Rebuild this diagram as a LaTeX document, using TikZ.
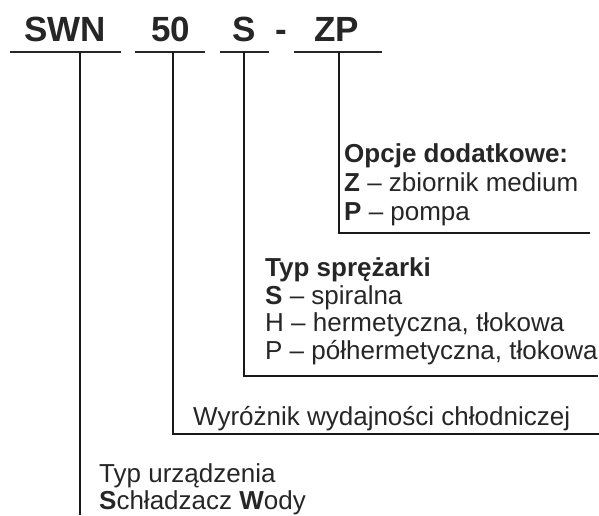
\documentclass[tikz,border=0pt]{standalone}
\usepackage{fontspec}
\setmainfont{Liberation Sans}
\usetikzlibrary{calc, positioning}

\tikzset{
  code/.style={inner sep=0pt, anchor=base west, text=black!85, font=\fontsize{35}{37}\selectfont\bfseries},
  txt/.style={inner sep=0pt, anchor=base west, text=black!85, font=\fontsize{26}{28}\selectfont},
  underline/.style={black!85, line width=2.4pt},
  lead/.style={black!90, line width=1.4pt}
}

\begin{document}
\begin{tikzpicture}[x=1pt, y=-1pt]
          \useasboundingbox (0,0) rectangle (599,515);
          % Type code
          \node[code] (swn) at (24,41) {SWN};
          \node[code] (fifty) at (151,41) {50};
          \node[code] (sp) at (232,41) {S};
          \node[code] (dash) at (275,41) {-};
          \node[code] (zp) at (314,41) {ZP};
          % Underlines
          \draw[underline] (10,52) -- (121,52);
          \draw[underline] (135,52) -- (205,52);
          \draw[underline] (220,52) -- (269,52);
          \draw[underline] (294,52) -- (382,52);
          % Lead line ends
          \coordinate (swnU) at (80,52);
          \coordinate (fiftyU) at (173,52);
          \coordinate (spU) at (244,52);
          \coordinate (zpU) at (339,52);
          \coordinate (swnE) at (80,515);
          \coordinate (fiftyE) at (599,434);
          \coordinate (spE) at (598,376);
          \coordinate (zpE) at (590,233);
          % Lead lines
          \draw[lead] (zpU) |- (zpE);
          \draw[lead] (spU) |- (spE);
          \draw[lead] (fiftyU) |- (fiftyE);
          \draw[lead] (swnU) -- (swnE);
          % Additional options
          \node[txt] (opt) at (344,162) {\bfseries Opcje dodatkowe:};
          \node[txt] (optZ) at (344,191) {\textbf{Z} -- zbiornik medium};
          \node[txt] (optP) at (344,220) {\textbf{P} -- pompa};
          % Compressor type
          \node[txt] (comp) at (265,276) {\bfseries Typ sprężarki};
          \node[txt] (compS) at (265,304) {\textbf{S} -- spiralna};
          \node[txt] (compH) at (265,331) {H -- hermetyczna, tłokowa};
          \node[txt] (compP) at (265,359) {P -- półhermetyczna, tłokowa};
          % Capacity
          \node[txt] (cap) at (193,425) {Wyróżnik wydajności chłodniczej};
          % Unit type
          \node[txt] (unit) at (99,482) {Typ urządzenia};
          \node[txt] (unitS) at (99,509) {\textbf{S}chładzacz \textbf{W}ody};
        \end{tikzpicture}
\end{document}
